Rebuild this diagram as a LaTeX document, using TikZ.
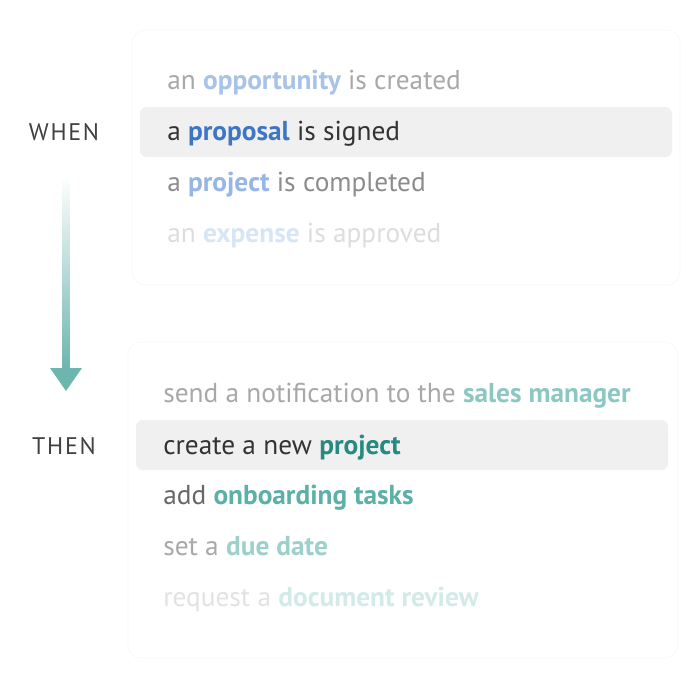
\documentclass[tikz,border=0pt]{standalone}
\usepackage{fontspec}
\setmainfont{PT Sans}
\definecolor{ink}{HTML}{333333}
\definecolor{labelgray}{HTML}{404040}
\definecolor{rowbg}{HTML}{F0F0F0}
\definecolor{cardline}{HTML}{F6F6F6}
\definecolor{arrowteal}{HTML}{6DB5AF}
% trigger side
\definecolor{gA}{HTML}{A8A8A8}
\definecolor{bA}{HTML}{A8C3E8}
\definecolor{bB}{HTML}{3F76C4}
\definecolor{gC}{HTML}{8C8C8C}
\definecolor{bC}{HTML}{96B6E4}
\definecolor{gD}{HTML}{DDDDDD}
\definecolor{bD}{HTML}{D6E6F5}
% action side
\definecolor{tA}{HTML}{8CC8C3}
\definecolor{tB}{HTML}{268A80}
\definecolor{gE}{HTML}{666666}
\definecolor{tC}{HTML}{5BB0A8}
\definecolor{tD}{HTML}{9DD0CB}
\definecolor{gF}{HTML}{E2E2E2}
\definecolor{tE}{HTML}{D3EBE8}
\newcommand{\kw}[2]{{\color{#1}\bfseries #2}}
\begin{document}
\begin{tikzpicture}[x=0.75pt,y=-0.75pt,font=\fontsize{20.5}{24}\selectfont]
\useasboundingbox (0,0) rectangle (700,686);
% cards
\draw[cardline,fill=white,rounded corners=10pt] (132,30) rectangle (680,285);
\draw[cardline,fill=white,rounded corners=10pt] (128,342) rectangle (678,658);
\fill[rowbg,rounded corners=5pt] (140,107) rectangle (672,157);
\fill[rowbg,rounded corners=5pt] (136,420) rectangle (668,470);
% labels
\node[labelgray,font=\fontsize{18}{22}\addfontfeature{LetterSpace=7}\selectfont] (when) at (64,132) {WHEN};
\node[labelgray,font=\fontsize{18}{22}\addfontfeature{LetterSpace=7}\selectfont] (then) at (64,446) {THEN};
% arrow
\shade[top color=white,bottom color=arrowteal] (62.5,176) rectangle (69.5,369);
\fill[arrowteal] (50,368) -- (82,368) -- (66,391) -- cycle;
% when rows
\node[anchor=base west,inner sep=0] (w1) at (167,89) {\color{gA}an \kw{bA}{opportunity} is created};
\node[anchor=base west,inner sep=0] (w2) at (167,140) {\color{ink}a \kw{bB}{proposal} is signed};
\node[anchor=base west,inner sep=0] (w3) at (167,191) {\color{gC}a \kw{bC}{project} is completed};
\node[anchor=base west,inner sep=0] (w4) at (167,242) {\color{gD}an \kw{bD}{expense} is approved};
% then rows
\node[anchor=base west,inner sep=0] (t1) at (163,402) {\color{gA}send a notification to the \kw{tA}{sales manager}};
\node[anchor=base west,inner sep=0] (t2) at (163,454) {\color{ink}create a new \kw{tB}{project}};
\node[anchor=base west,inner sep=0] (t3) at (163,504) {\color{gE}add \kw{tC}{onboarding tasks}};
\node[anchor=base west,inner sep=0] (t4) at (163,555) {\color{gA}set a \kw{tD}{due date}};
\node[anchor=base west,inner sep=0] (t5) at (163,606) {\color{gF}request a \kw{tE}{document review}};
\end{tikzpicture}
\end{document}
